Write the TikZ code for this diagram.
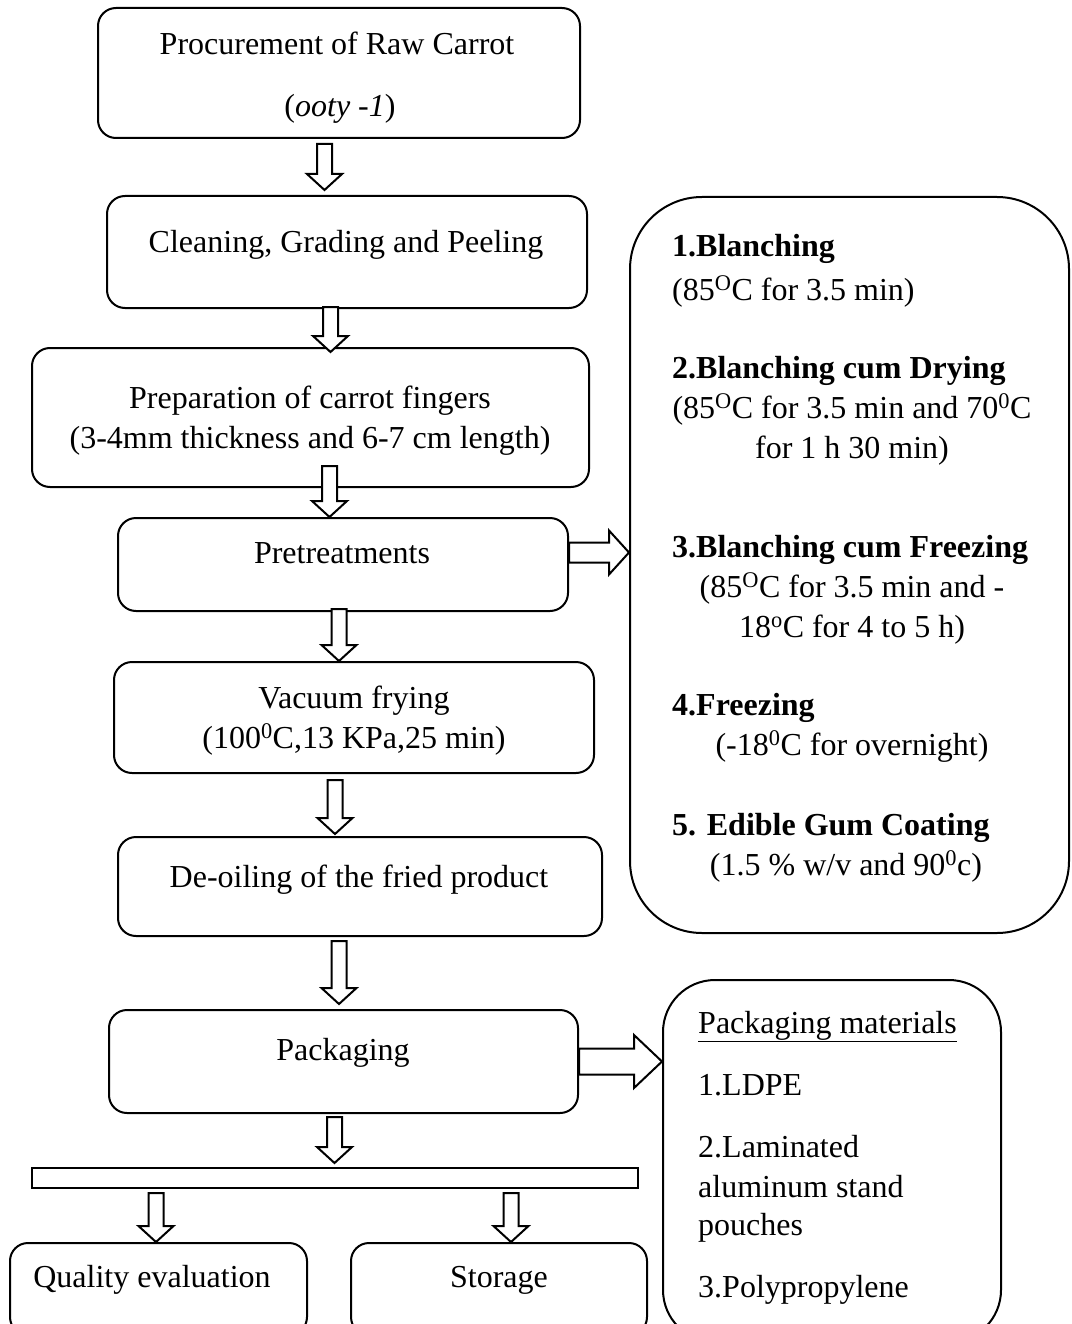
\documentclass[tikz,border=0pt]{standalone}
\usepackage{fontspec}
\setmainfont{Liberation Serif}
\usetikzlibrary{calc}
\tikzset{
  box/.style={draw, line width=2pt, rounded corners=18pt, inner sep=0pt},
  bigbox/.style={draw, line width=2pt, inner sep=0pt},
  blk/.style={draw, fill=white, line width=2pt, line join=miter},
  txt/.style={font=\fontsize{32pt}{40pt}\selectfont, inner sep=0pt, anchor=base},
  ltxt/.style={txt, anchor=base west},
}
\newcommand\varrow[2]{%
  \draw[blk] let \p1=(#1), \p2=(#2) in
  (\x1-7.5pt,\y1) -- (\x1-7.5pt,\y2+16pt) -- (\x1-17.5pt,\y2+16pt) -- (\x1,\y2)
  -- (\x1+17.5pt,\y2+16pt) -- (\x1+7.5pt,\y2+16pt) -- (\x1+7.5pt,\y1) -- cycle;}
\newcommand\harrow[5]{%
  \draw[blk] let \p1=(#1), \p2=(#2) in
  (\x1,\y1+#3) -- (\x2-#5,\y1+#3) -- (\x2-#5,\y1+#4) -- (\x2,\y1)
  -- (\x2-#5,\y1-#4) -- (\x2-#5,\y1-#3) -- (\x1,\y1-#3) -- cycle;}
\begin{document}
\begin{tikzpicture}[x=1pt,y=-1pt]
\useasboundingbox (0,0) rectangle (1071,1324);
\clip (0,0) rectangle (1071,1324);

% main flow boxes
\node[box, minimum width=482pt, minimum height=130pt] (p1) at (339,73) {};
\node[box, minimum width=480pt, minimum height=112pt] (p2) at (347,252) {};
\node[box, minimum width=557pt, minimum height=139pt] (p3) at (310.5,417.5) {};
\node[box, minimum width=450pt, minimum height=93pt] (p4) at (343,564.5) {};
\node[box, minimum width=480pt, minimum height=111pt] (p5) at (354,717.5) {};
\node[box, minimum width=484pt, minimum height=99pt] (p6) at (360,886.5) {};
\node[box, minimum width=469pt, minimum height=103pt] (p7) at (343.5,1061.5) {};
\node[draw, line width=2pt, inner sep=0pt, minimum width=606pt, minimum height=20pt] (bar) at (335,1178) {};
\node[box, minimum width=297pt, minimum height=92pt] (q) at (158.5,1289) {};
\node[box, minimum width=296pt, minimum height=92pt] (s) at (499,1289) {};

% side boxes
\node[bigbox, rounded corners=72pt, minimum width=439pt, minimum height=736pt] (big) at (849.5,565) {};
\node[bigbox, rounded corners=52pt, minimum width=338pt, minimum height=362pt] (pm) at (832,1161) {};

% texts of main flow
\node[txt] (t1a) at (337,55) {Procurement of Raw Carrot};
\node[txt] (t1b) at (340,117) {(\textit{ooty -1})};
\node[txt] (t2) at (346,252) {Cleaning, Grading and Peeling};
\node[txt] (t3a) at (310,408) {Preparation of carrot fingers};
\node[txt] (t3b) at (310,448) {(3-4mm thickness and 6-7 cm length)};
\node[txt] (t4) at (342,563) {Pretreatments};
\node[txt] (t5a) at (354,708) {Vacuum frying};
\node[txt] (t5b) at (354,748) {(100\textsuperscript{0}C,13 KPa,25 min)};
\node[txt] (t6) at (359,887) {De-oiling of the fried product};
\node[txt] (t7) at (343,1060) {Packaging};
\node[txt] (tq) at (152,1287) {Quality evaluation};
\node[txt] (ts) at (499,1287) {Storage};

% pretreatment list
\node[ltxt] (b1) at (672,257) {\textbf{1.Blanching}};
\node[ltxt] (b1s) at (672,300) {(85\textsuperscript{O}C for 3.5 min)};
\node[ltxt] (b2) at (672,378) {\textbf{2.Blanching cum Drying}};
\node[txt] (b2s) at (852,418) {(85\textsuperscript{O}C for 3.5 min and 70\textsuperscript{0}C};
\node[txt] (b2t) at (852,458) {for 1 h 30 min)};
\node[ltxt] (b3) at (672,557) {\textbf{3.Blanching cum Freezing}};
\node[txt] (b3s) at (852,597) {(85\textsuperscript{O}C for 3.5 min and -};
\node[txt] (b3t) at (852,637) {18\textsuperscript{o}C for 4 to 5 h)};
\node[ltxt] (b4) at (672,715) {\textbf{4.Freezing}};
\node[txt] (b4s) at (852,755) {(-18\textsuperscript{0}C for overnight)};
\node[ltxt] (b5) at (672,835) {\textbf{5. Edible Gum Coating}};
\node[txt] (b5s) at (846,875) {(1.5 \% w/v and 90\textsuperscript{0}c)};

% packaging materials list
\node[ltxt] (m0) at (698,1033) {\underline{Packaging materials}};
\node[ltxt] (m1) at (698,1095) {1.LDPE};
\node[ltxt] (m2) at (698,1157) {2.Laminated};
\node[ltxt] (m2b) at (698,1197) {aluminum stand};
\node[ltxt] (m2c) at (698,1235) {pouches};
\node[ltxt] (m3) at (698,1297) {3.Polypropylene};

% arrow anchor points
\coordinate (a1s) at ($(p1.south)+(-14.5,5)$);
\coordinate (a2s) at ($(p2.south)+(-16.5,-2)$);
\coordinate (a3s) at ($(p3.south)+(19,-22)$);
\coordinate (a4s) at ($(p4.south)+(-4,-3)$);
\coordinate (a5s) at ($(p5.south)+(-19,6)$);
\coordinate (a6s) at ($(p6.south)+(-21,4)$);
\coordinate (a7s) at ($(p7.south)+(-9,3)$);
\coordinate (a8s) at ($(bar.south)+(-179,4)$);
\coordinate (a9s) at ($(bar.south)+(176,4)$);
\coordinate (h1s) at ($(p4.east)+(0,-12)$);
\coordinate (h2s) at (p7.east);

\varrow{a1s}{$(a1s |- p2.north)+(0,-5)$}
\varrow{a2s}{$(a2s |- p3.north)+(0,5)$}
\varrow{a3s}{a3s |- p4.north}
\varrow{a4s}{a4s |- p5.north}
\varrow{a5s}{$(a5s |- p6.north)+(0,-2)$}
\varrow{a6s}{$(a6s |- p7.north)+(0,-5)$}
\varrow{a7s}{$(a7s |- bar.north)+(0,-4)$}
\varrow{a8s}{a8s |- q.north}
\varrow{a9s}{a9s |- s.north}
\harrow{h1s}{h1s -| big.west}{10pt}{22pt}{20pt}
\harrow{h2s}{h2s -| pm.west}{13pt}{26.5pt}{28pt}
\end{tikzpicture}
\end{document}
